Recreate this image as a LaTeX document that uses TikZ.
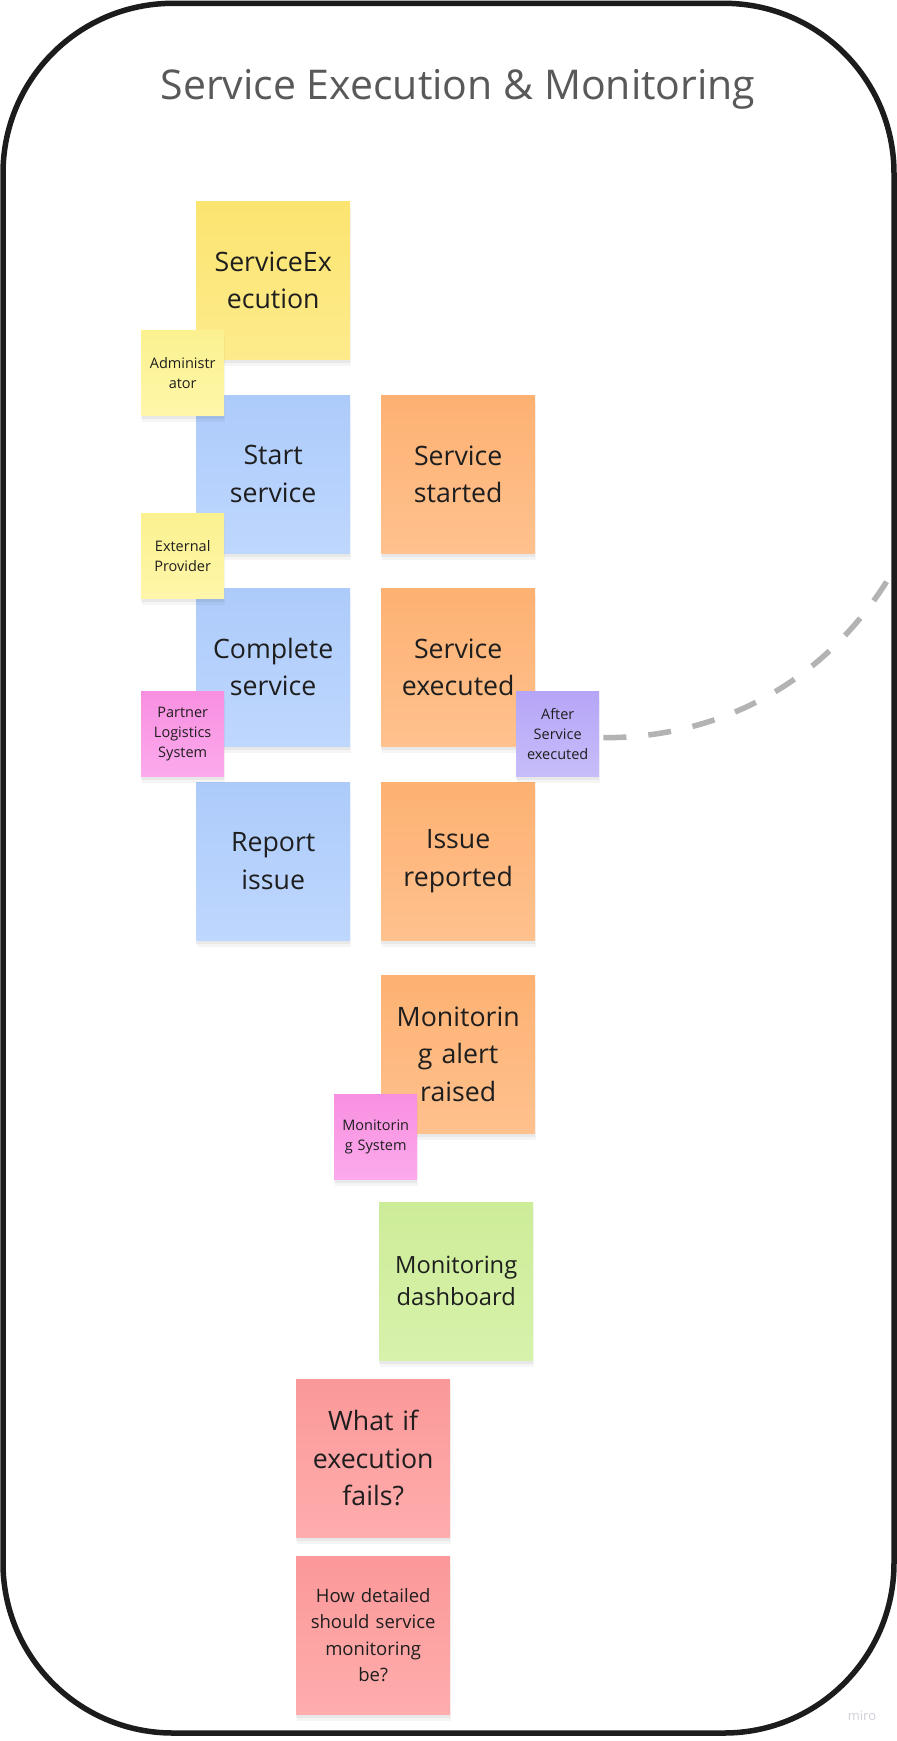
\documentclass[tikz,border=0pt]{standalone}
\usepackage{fontspec}
\setmainfont{Open Sans}
\usepackage{tikz}
\usetikzlibrary{shadows}

\definecolor{notetext}{HTML}{1E1E1E}
\definecolor{titlegray}{HTML}{595959}
\definecolor{linkgray}{HTML}{B3B3B3}

\begin{document}
\begin{tikzpicture}[x=1pt,y=-1pt,
    sticky/.style={anchor=north west, inner sep=0pt, align=center, text=notetext,
        minimum width=154pt, minimum height=158pt, text width=150pt,
        general shadow={fill=black, opacity=0.05, shadow xshift=0pt, shadow yshift=-4pt},
        general shadow={fill=black, opacity=0.04, shadow xshift=1pt, shadow yshift=-7pt},
        font=\fontsize{26.7}{37.5}\selectfont},
    tag/.style={sticky, minimum width=83pt, minimum height=85pt, text width=81pt,
        font=\fontsize{14.5}{20}\selectfont},
    aggregate/.style={top color={rgb,255:red,252;green,228;blue,112}, bottom color={rgb,255:red,253;green,235;blue,140}},
    actor/.style={top color={rgb,255:red,251;green,241;blue,143}, bottom color={rgb,255:red,255;green,246;blue,170}},
    command/.style={top color={rgb,255:red,173;green,203;blue,250}, bottom color={rgb,255:red,190;green,215;blue,254}},
    event/.style={top color={rgb,255:red,253;green,177;blue,114}, bottom color={rgb,255:red,255;green,193;blue,142}},
    system/.style={top color={rgb,255:red,248;green,143;blue,224}, bottom color={rgb,255:red,252;green,170;blue,237}},
    policy/.style={top color={rgb,255:red,182;green,165;blue,247}, bottom color={rgb,255:red,199;green,189;blue,250}},
    readmodel/.style={top color={rgb,255:red,205;green,236;blue,152}, bottom color={rgb,255:red,215;green,242;blue,171}},
    question/.style={top color={rgb,255:red,251;green,152;blue,153}, bottom color={rgb,255:red,255;green,173;blue,173}}
]
    \useasboundingbox (0,0) rectangle (897,1741);
    \fill[white] (0,0) rectangle (897,1741);

    % frame and title
    \draw[line width=5.5pt, color={rgb,255:red,28;green,28;blue,28}, rounded corners=170pt] (3,3.3) rectangle (894,1733);
    \node[anchor=base, text=titlegray, font=\fontsize{41}{48}\selectfont] (title) at (458,99) {Service Execution \& Monitoring};

    % big stickies
    \node[sticky, aggregate] (1) at (196,201) {ServiceEx\\ecution};
    \node[sticky, command] (3) at (196,395) {Start\\service};
    \node[sticky, event] (4) at (381,395) {Service\\started};
    \node[sticky, command] (6) at (196,588) {Complete\\service};
    \node[sticky, event] (7) at (381,588) {Service\\executed};
    \node[sticky, command] (10) at (196,782) {Report\\issue};
    \node[sticky, event] (11) at (381,782) {Issue\\reported};
    \node[sticky, event] (12) at (381,975) {Monitorin\\g alert\\raised};
    \node[sticky, readmodel, font=\fontsize{23.7}{32}\selectfont] (14) at (379,1202) {Monitoring\\dashboard};
    \node[sticky, question] (15) at (296,1379) {What if\\execution\\fails?};
    \node[sticky, question, font=\fontsize{18.5}{26.5}\selectfont] (16) at (296,1556) {How detailed\\should service\\monitoring\\be?};

    % small stickies
    \node[tag, actor] (2) at (141,330) {Administr\\ator};
    \node[tag, actor] (5) at (141,513) {External\\Provider};
    \node[tag, system] (8) at (141,691) {Partner\\Logistics\\System};
    \node[tag, policy] (9) at (516,691) {After\\Service\\executed};
    \node[tag, system] (13) at (334,1094) {Monitorin\\g System};

    % link leaving the frame
    \coordinate (out) at (896,566);
    \draw[linkgray, line width=5.5pt, dash pattern=on 23pt off 22pt]
        ([xshift=4pt,yshift=-4pt]9.east) .. controls (720,738) and (830,682) .. (out);

    \node[text={rgb,255:red,208;green,208;blue,220}, font=\fontsize{13}{15}\selectfont] (miro) at (862,1716) {miro};
\end{tikzpicture}
\end{document}
